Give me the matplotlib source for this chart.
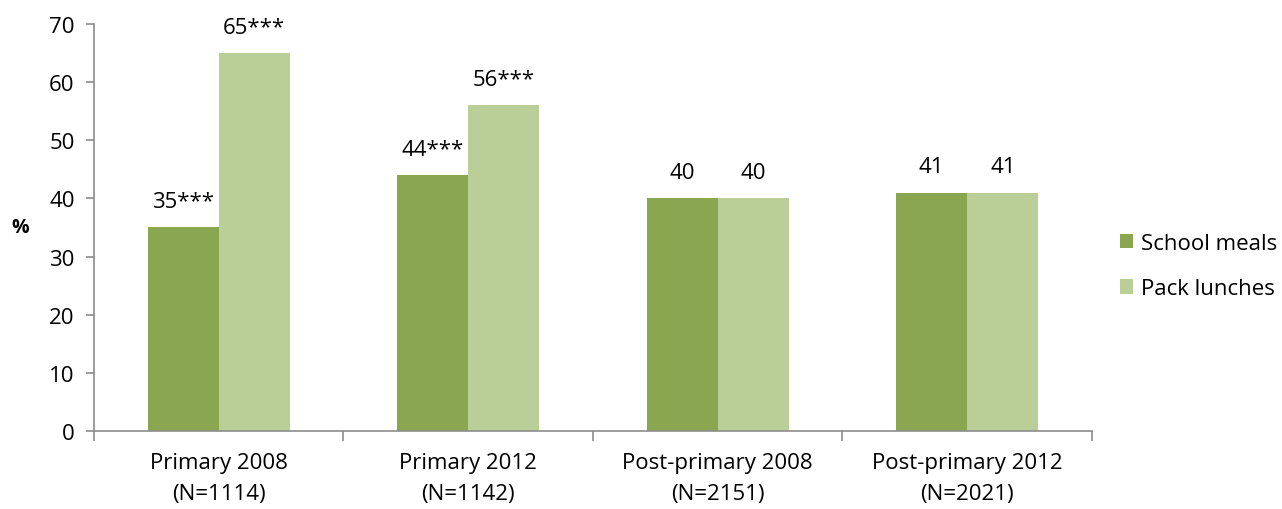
import matplotlib
matplotlib.use("Agg")
import matplotlib.pyplot as plt
import numpy as np

categories = ["Primary 2008\n(N=1114)", "Primary 2012\n(N=1142)",
              "Post-primary 2008\n(N=2151)", "Post-primary 2012\n(N=2021)"]
school_meals = [35, 44, 40, 41]
pack_lunches = [65, 56, 40, 41]
school_labels = ["35***", "44***", "40", "41"]
pack_labels = ["65***", "56***", "40", "41"]

plt.rcParams["font.family"] = ["Open Sans", "DejaVu Sans"]

dark = "#8BA650"
light = "#BACF97"
axis_col = "#8C8C8C"
fs = 16

fig = plt.figure(figsize=(12.82, 5.10), dpi=100)
ax = fig.add_axes([0.0733, 0.153, 0.7785, 0.798])

x = np.arange(len(categories))
w = 0.285
b1 = ax.bar(x - w / 2, school_meals, w, color=dark, label="School meals")
b2 = ax.bar(x + w / 2, pack_lunches, w, color=light, label="Pack lunches")

for bars, labels in ((b1, school_labels), (b2, pack_labels)):
    for rect, lab in zip(bars, labels):
        ax.text(rect.get_x() + rect.get_width() / 2, rect.get_height() + 2.6, lab,
                ha="center", va="bottom", fontsize=fs)

ax.set_xlim(-0.5, len(categories) - 0.5)
ax.set_ylim(0, 70)
ax.set_yticks(range(0, 71, 10))
ax.set_xticks(x)
ax.set_xticklabels(categories, fontsize=fs, linespacing=1.65)
ax.set_xticks(np.arange(-0.5, len(categories), 1.0), minor=True)
ax.tick_params(axis="x", which="major", length=0, pad=15)
ax.tick_params(axis="x", which="minor", length=7, color=axis_col, width=1.2, direction="out")
ax.tick_params(axis="y", length=6, color=axis_col, width=1.2, labelsize=fs, pad=8)

for side in ("top", "right"):
    ax.spines[side].set_visible(False)
for side in ("left", "bottom"):
    ax.spines[side].set_color(axis_col)
    ax.spines[side].set_linewidth(1.2)

fig.text(0.016, 0.553, "%", fontsize=14, fontweight="bold", ha="center", va="center")

ax.legend(loc="center left", bbox_to_anchor=(1.008, 0.405), frameon=False, fontsize=fs,
          handlelength=0.6, handleheight=0.6, handletextpad=0.35, labelspacing=1.1)

fig.savefig("out.png", dpi=100)
